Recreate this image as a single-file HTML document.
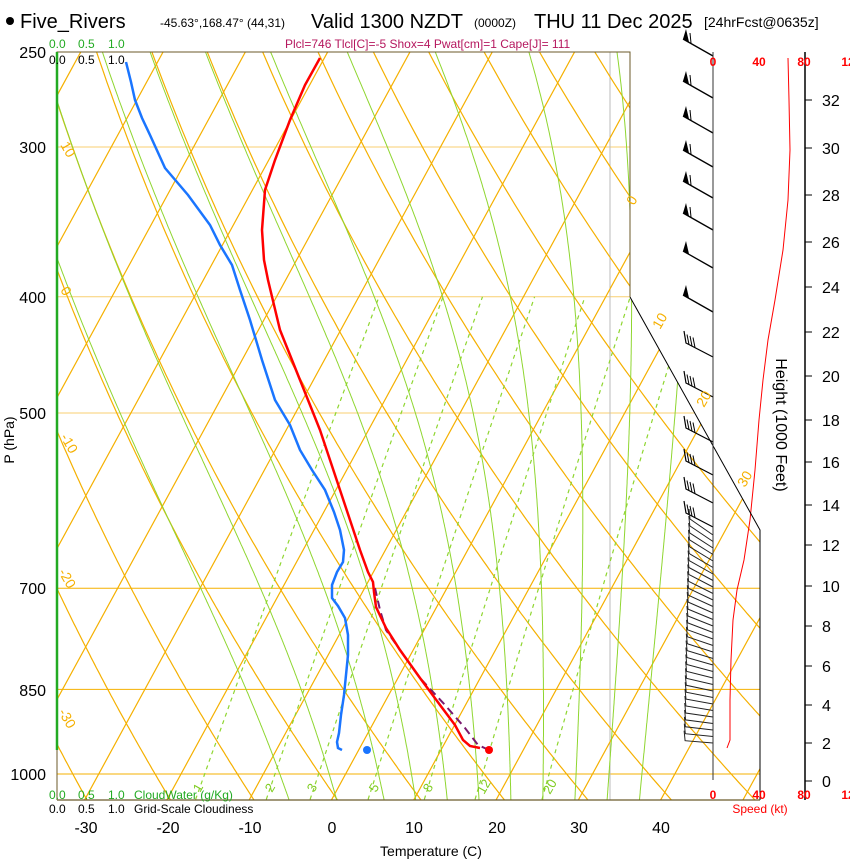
<!DOCTYPE html>
<html><head><meta charset="utf-8"><style>
body{margin:0;background:#fff;overflow:hidden;}
svg{display:block;font-family:"Liberation Sans",sans-serif;}
</style></head><body>
<svg id="s" width="850" height="860" xmlns="http://www.w3.org/2000/svg">
<defs><clipPath id="cp"><polygon points="57,52 630,52 630,297 760,530 760,800 57,800"/></clipPath></defs>
<g id="grid" clip-path="url(#cp)"></g>
<g id="fg"></g>
<polyline points="57,800 57,52 630,52 630,297" fill="none" stroke="#6b5a2a" stroke-width="1"/>
<polyline points="630,297 760,530 760,800" fill="none" stroke="#000" stroke-width="1"/>
<line x1="57" y1="800" x2="760" y2="800" stroke="#6b5a2a" stroke-width="1.2"/>
<line x1="57" y1="52" x2="57" y2="750" stroke="#22aa22" stroke-width="2.5"/>
<line x1="713" y1="52" x2="713" y2="780" stroke="#333" stroke-width="1"/>
<line x1="805" y1="52" x2="805" y2="800" stroke="#000" stroke-width="1.5"/>
<circle cx="10" cy="21" r="4" fill="#000"/>
<text x="20" y="28" font-size="20">Five_Rivers</text>
<text x="160" y="27" font-size="12">-45.63°,168.47° (44,31)</text>
<text x="311" y="28" font-size="20">Valid 1300 NZDT</text>
<text x="474" y="27" font-size="12">(0000Z)</text>
<text x="534" y="28" font-size="20">THU 11 Dec 2025</text>
<text x="704" y="27" font-size="14">[24hrFcst@0635z]</text>
<text x="285" y="48" font-size="12" fill="#b5175e">Plcl=746 Tlcl[C]=-5 Shox=4 Pwat[cm]=1 Cape[J]= 111</text>
<g font-size="12" fill="#22aa22"><text x="49" y="48">0.0</text><text x="78" y="48">0.5</text><text x="108" y="48">1.0</text>
<text x="49" y="799">0.0</text><text x="78" y="799">0.5</text><text x="108" y="799">1.0</text><text x="134" y="799">CloudWater (g/Kg)</text></g>
<g font-size="12" fill="#000"><text x="49" y="64">0.0</text><text x="78" y="64">0.5</text><text x="108" y="64">1.0</text>
<text x="49" y="813">0.0</text><text x="78" y="813">0.5</text><text x="108" y="813">1.0</text><text x="134" y="813">Grid-Scale Cloudiness</text></g>
<g font-size="16" text-anchor="end"><text x="46" y="58">250</text><text x="46" y="153">300</text><text x="46" y="303">400</text><text x="46" y="419">500</text><text x="46" y="594">700</text><text x="46" y="696">850</text><text x="46" y="780">1000</text></g>
<text transform="translate(14,440) rotate(-90)" font-size="14" text-anchor="middle">P (hPa)</text>
<g font-size="16" text-anchor="middle"><text x="86" y="833">-30</text><text x="168" y="833">-20</text><text x="250" y="833">-10</text><text x="332" y="833">0</text><text x="414" y="833">10</text><text x="497" y="833">20</text><text x="579" y="833">30</text><text x="661" y="833">40</text></g>
<text x="431" y="856" font-size="14" text-anchor="middle">Temperature (C)</text>
<g font-size="12" fill="#ff0000" text-anchor="middle" font-weight="bold"><text x="713" y="66">0</text><text x="759" y="66">40</text><text x="804" y="66">80</text><text x="848" y="66">12</text>
<text x="713" y="799">0</text><text x="759" y="799">40</text><text x="804" y="799">80</text><text x="848" y="799">12</text></g>
<text x="760" y="813" font-size="12" fill="#ff0000" text-anchor="middle">Speed (kt)</text>
<g id="hax" font-size="16"></g>
<text transform="translate(776,425) rotate(90)" font-size="16" text-anchor="middle">Height (1000 Feet)</text>
<g font-size="14" fill="#f5b000">
<text transform="translate(60,145) rotate(60)">10</text>
<text transform="translate(60,290) rotate(60)">0</text>
<text transform="translate(60,437) rotate(60)">-10</text>
<text transform="translate(58,572) rotate(60)">-20</text>
<text transform="translate(58,712) rotate(60)">-30</text>
<text transform="translate(634,206) rotate(-60)">0</text>
<text transform="translate(660,330) rotate(-60)">10</text>
<text transform="translate(704,408) rotate(-60)">20</text>
<text transform="translate(745,488) rotate(-60)">30</text>
</g>
<g font-size="13" fill="#7fcc20">
<text transform="translate(200,793) rotate(-60)">1</text>
<text transform="translate(272,793) rotate(-60)">2</text>
<text transform="translate(314,793) rotate(-60)">3</text>
<text transform="translate(376,793) rotate(-60)">5</text>
<text transform="translate(430,793) rotate(-60)">8</text>
<text transform="translate(484,795) rotate(-60)">12</text>
<text transform="translate(550,795) rotate(-60)">20</text>
</g>
<script>
var NS="http://www.w3.org/2000/svg";
function Y(p){return 774+520.8*Math.log(p/1000);}
function X(T,p){return 332+8.23*T+0.545*(799-Y(p));}
function el(par,tag,a){var e=document.createElementNS(NS,tag);for(var k in a)e.setAttribute(k,a[k]);document.getElementById(par).appendChild(e);return e;}
function pl(par,pts,st){el(par,"polyline",Object.assign({points:pts.map(function(q){return q[0].toFixed(1)+","+q[1].toFixed(1)}).join(" "),fill:"none"},st));}
var ps=[];for(var p=1060;p>=240;p-=5)ps.push(p);
[[300,"#f8cf70"],[400,"#f8cf70"],[500,"#f8cf70"],[700,"#f5b000"],[850,"#f5b000"],[1000,"#f5b000"]].forEach(function(a){el("grid","line",{x1:57,x2:760,y1:Y(a[0]),y2:Y(a[0]),stroke:a[1],"stroke-width":1});});
el("grid","line",{x1:610,x2:610,y1:52,y2:800,stroke:"#bbb","stroke-width":1});
for(var T=-120;T<=50;T+=10){pl("grid",[[X(T,1060),Y(1060)],[X(T,240),Y(240)]],{stroke:"#f5b000","stroke-width":1.2});}
for(var th=220;th<=500;th+=10){var pts=ps.map(function(p){return [X(th*Math.pow(p/1000,0.286)-273.15,p),Y(p)]});pl("grid",pts,{stroke:"#f5b000","stroke-width":1.2});}
function es(T){return 6.112*Math.exp(17.67*T/(T+243.5));}
function rs(T,p){var e=es(T);return 0.622*e/(p-e);}
function dTdlnp(T,p){var Tk=T+273.15,r=rs(T,p),L=2.5e6,Rd=287,cp=1004;return (Rd*Tk+L*r)/(cp+L*L*r*0.622/(Rd*Tk*Tk));}
[-8,-2,4,8,12,16,20,24,28,32,36].forEach(function(T0){
 var T=T0,p,up=[];
 for(p=1000;p>=240;p-=2){up.push([X(T,p),Y(p)]);T-=dTdlnp(T,p)*(2/p);}
 T=T0;var dn=[];for(p=1000;p<=1062;p+=2){dn.unshift([X(T,p),Y(p)]);T+=dTdlnp(T,p)*(2/p);}
 pl("grid",dn.concat(up),{stroke:"#8fd630","stroke-width":1});
});
[1,2,3,5,8,12,20].forEach(function(w){var pts=[];for(var p=1050;p>=400;p-=10){var e=w*p/(622+w);var l=Math.log(e/6.112);var Td=243.5*l/(17.67-l);pts.push([X(Td,p),Y(p)]);}pl("grid",pts,{stroke:"#8fd630","stroke-width":1.2,"stroke-dasharray":"4,4"});});
function P(s){return s.split(" ").map(function(a){return a.split(",").map(Number)});}
pl("fg",P("375,588 380,610 386,630 400,650 420,678 445,705 465,728 478,745 489,750"),{stroke:"#7a1a6e","stroke-width":2,"stroke-dasharray":"8,5"});
pl("fg",P("320,58 305,85 290,120 275,160 265,190 262,230 264,260 268,280 274,305 280,330 290,355 300,380 310,405 320,430 330,460 340,490 350,520 360,550 368,572 373,582 374,592 376,607 386,628 400,650 420,678 440,705 455,725 463,740 470,746 480,748"),{stroke:"#ff0000","stroke-width":2.5});
pl("fg",P("126,62 131,82 135,100 142,118 150,135 165,168 188,195 210,225 220,245 232,265 240,290 250,320 262,360 275,400 290,425 300,450 312,470 325,490 334,512 340,530 344,550 343,562 337,572 332,585 332,598 338,606 345,618 348,635 348,655 346,675 344,695 341,715 339,733 337,742 338,748 342,750"),{stroke:"#1a75ff","stroke-width":2.5});
el("fg","circle",{cx:489,cy:750,r:4,fill:"#ff0000"});
el("fg","circle",{cx:367,cy:750,r:4,fill:"#1a75ff"});
pl("fg",P("727,748 730,740 730,700 731,660 733,620 737,590 744,560 750,520 755,470 759,420 763,380 768,340 775,300 783,250 788,200 790,150 789,100 788,58"),{stroke:"#ff0000","stroke-width":1});
[56,98,133,167,198,230,268,312].forEach(function(y0,i){var x0=713,x1=683,y1=y0-17;
 pl("fg",[[x0,y0],[x1,y1]],{stroke:"#000","stroke-width":1.3});
 el("fg","polygon",{points:x1+","+y1+" "+(x1+6)+","+(y1+3)+" "+(x1+3)+","+(y1-10),fill:"#000"});
 if(i<6){pl("fg",[[x1+8,y1+4],[x1+7,y1-6]],{stroke:"#000","stroke-width":1});}
});
[357,397,442,475,503,527].forEach(function(y){var x1=686,y1=y-14;pl("fg",[[713,y],[x1,y1],[x1-2,y1-12]],{stroke:"#000","stroke-width":1.2});for(var k=1;k<4;k++)pl("fg",[[x1+k*3,y1+k*1.5],[x1+k*3-2,y1+k*1.5-10]],{stroke:"#000","stroke-width":1});});
for(var y=535;y<=748;y+=6.5){var f=(y-535)/213;var x1=690-5*f,y1=y-14*(1-f)-2;pl("fg",[[713,y],[x1,y1],[x1-1,y1-10]],{stroke:"#222","stroke-width":1});}
var hy=[781,743,705,666,626,586,545,505,462,420,376,332,287,242,195,148,100];
hy.forEach(function(y,i){el("hax","line",{x1:805,x2:812,y1:y,y2:y,stroke:"#000"});var t=el("hax","text",{x:822,y:y+6});t.textContent=(i*2);});
</script>
</svg>
</body></html>
